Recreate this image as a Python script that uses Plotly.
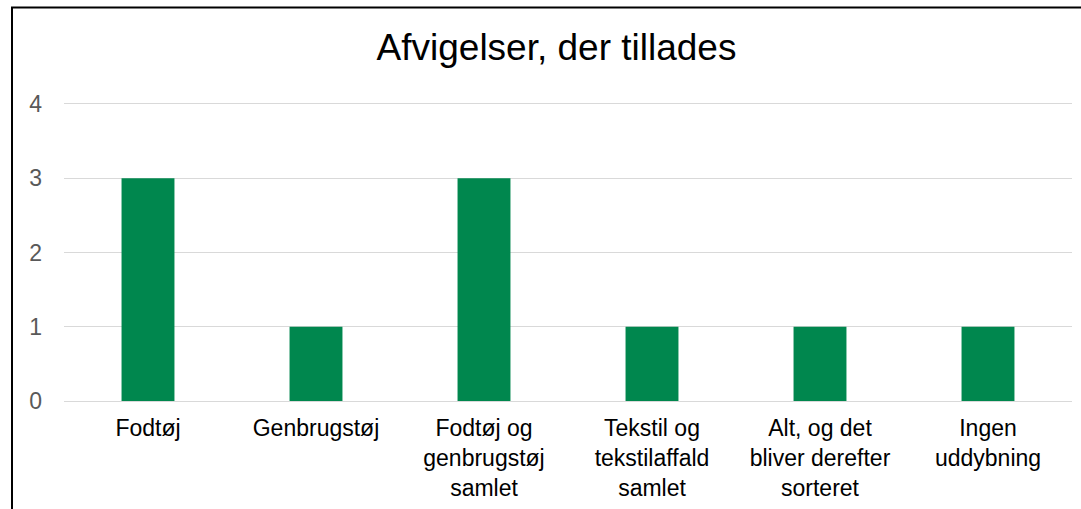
import plotly.graph_objects as go

categories = [
    "Fodtøj",
    "Genbrugstøj",
    "Fodtøj og<br>genbrugstøj<br>samlet",
    "Tekstil og<br>tekstilaffald<br>samlet",
    "Alt, og det<br>bliver derefter<br>sorteret",
    "Ingen<br>uddybning",
]
values = [3, 1, 3, 1, 1, 1]
y_ticks = [0, 1, 2, 3, 4]

W, H = 1081, 509
ML, MR, MT, MB = 64, 9, 101, 108
pw, ph = W - ML - MR, H - MT - MB

fig = go.Figure(
    go.Bar(x=categories, y=values, marker=dict(color="#00874E", line=dict(width=0)))
)

fig.update_layout(
    width=W,
    height=H,
    margin=dict(l=ML, r=MR, t=MT, b=MB),
    paper_bgcolor="white",
    plot_bgcolor="white",
    font=dict(family="Liberation Sans, Arial, sans-serif"),
    bargap=0.685,
    showlegend=False,
    title=dict(
        text="Afvigelser, der tillades",
        font=dict(size=37, color="#000000"),
        x=556.5 / W,
        xref="container",
        xanchor="center",
        y=1 - 47 / H,
        yref="container",
        yanchor="middle",
    ),
    xaxis=dict(
        showgrid=False,
        showline=False,
        ticks="",
        tickfont=dict(size=23, color="#000000"),
        ticklabelstandoff=11,
    ),
    yaxis=dict(
        range=[0, 4.04],
        tickvals=y_ticks,
        showgrid=True,
        gridcolor="#d9d9d9",
        gridwidth=1.3,
        zeroline=True,
        zerolinecolor="#d9d9d9",
        zerolinewidth=1.3,
        showline=False,
        ticks="",
        tickfont=dict(size=23, color="#595959"),
        ticklabelstandoff=21,
    ),
    shapes=[
        dict(
            type="rect",
            xref="paper",
            yref="paper",
            x0=(12 - ML) / pw,
            x1=1.2,
            y0=-0.6,
            y1=(H - MB - 7.5) / ph,
            line=dict(color="#000000", width=2),
            fillcolor="rgba(0,0,0,0)",
            layer="above",
        )
    ],
)

fig.write_html(
    "out.html",
    config={"displayModeBar": False},
    post_script="document.body.style.margin='0';document.body.style.overflow='hidden';",
)
